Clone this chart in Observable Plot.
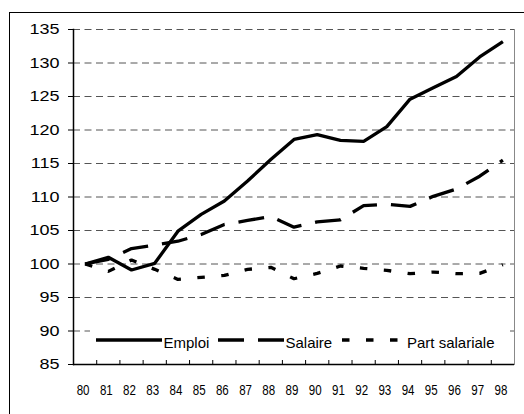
<!DOCTYPE html>
<html><head><meta charset="utf-8">
<script src="https://cdn.jsdelivr.net/npm/d3@7"></script>
<script src="https://cdn.jsdelivr.net/npm/@observablehq/plot@0.6"></script>
<style>
body{margin:0;background:#fff;}
#wrap{position:relative;width:524px;height:414px;overflow:hidden;background:#fff;font-family:"Liberation Sans",Arial,sans-serif;}
#border{position:absolute;left:9px;top:12px;width:600px;height:500px;border-left:1.5px solid #000;border-top:1.5px solid #000;}
#chart{position:absolute;left:0;top:0;}
#legend{position:absolute;left:0;top:0;}
</style></head><body>
<div id="wrap"><div id="border"></div><div id="chart"></div><svg id="legend" width="524" height="414"></svg></div>
<script>
const years = ["80","81","82","83","84","85","86","87","88","89","90","91","92","93","94","95","96","97","98"];
const emploi = [100, 101.0, 99.1, 100.1, 104.9, 107.4, 109.4, 112.4, 115.6, 118.6, 119.3, 118.45, 118.3, 120.5, 124.6, 126.3, 128.0, 130.9, 133.2];
const salaire = [100, 100.7, 102.3, 102.8, 103.4, 104.4, 105.9, 106.5, 107.1, 105.5, 106.3, 106.6, 108.7, 108.9, 108.6, 110.1, 111.2, 113.1, 115.5];
const partSalariale = [100, 98.9, 100.6, 99.2, 97.7, 98.0, 98.3, 99.2, 99.5, 97.8, 98.6, 99.7, 99.35, 99.05, 98.55, 98.8, 98.55, 98.6, 99.9];
const yTicks = [85, 90, 95, 100, 105, 110, 115, 120, 125, 130, 135];
const seriesNames = ["Emploi", "Salaire", "Part salariale"];
const seriesDash = [null, "26,14", "7.5,16.5"];

const idx = years.map((_, i) => i);
const rows = s => idx.map(i => ({i, v: s[i]}));
const lineOpts = dash => ({x: "i", y: "v", stroke: "#000", strokeWidth: 3.3, strokeLinecap: "butt", strokeLinejoin: "miter", strokeDasharray: dash || undefined});

const plot = Plot.plot({
  width: 524, height: 414,
  marginLeft: 73, marginRight: 10, marginTop: 29, marginBottom: 50,
  style: {fontFamily: "'Liberation Sans', Arial, sans-serif", fontSize: "15px", background: "transparent", color: "#000"},
  x: {type: "linear", domain: [-0.5, years.length - 0.5]},
  y: {domain: [85, 135]},
  marks: [
    Plot.gridY(yTicks.filter(t => t > 85), {stroke: "#555", strokeOpacity: 1, strokeDasharray: "7,4.5"}),
    Plot.frame({anchor: "right", stroke: "#888"}),
    Plot.line(rows(partSalariale), lineOpts(seriesDash[2])),
    Plot.line(rows(salaire), lineOpts(seriesDash[1])),
    Plot.line(rows(emploi), lineOpts(seriesDash[0])),
    Plot.ruleY([85], {stroke: "#000", strokeWidth: 1.5}),
    Plot.frame({anchor: "left", stroke: "#000", strokeWidth: 1.5}),
    Plot.axisY(yTicks, {tickSize: 5, tickPadding: 9, label: null, stroke: "#000"}),
    Plot.axisX(idx.slice(1).map(i => i - 0.5), {tickSize: -4, tickFormat: () => "", label: null, stroke: "#000"}),
    Plot.axisX(idx, {tickSize: 0, tickPadding: 20, tickFormat: i => years[i], label: null, dx: -2})
  ]
});
document.getElementById("chart").appendChild(plot);

// adjust label glyph widths to the reference
d3.select(plot).selectAll('g[aria-label="y-axis tick label"] text').each(function() {
  const t = this.getAttribute("transform") || "";
  this.setAttribute("transform", t + " scale(1.2,1)");
});
d3.select(plot).selectAll('g[aria-label="x-axis tick label"] text').each(function() {
  const t = this.getAttribute("transform") || "";
  this.setAttribute("transform", t + " scale(0.77,1)");
});

// legend
const lg = d3.select("#legend");
lg.append("rect").attr("x", 90).attr("y", 322).attr("width", 416).attr("height", 35).attr("fill", "#fff");
const items = [
  {x1: 96, x2: 162, tx: 163.5},
  {x1: 218, x2: 284, tx: 285.5},
  {x1: 342, x2: 398, tx: 407}
];
items.forEach((it, k) => {
  lg.append("line").attr("x1", it.x1).attr("x2", it.x2).attr("y1", 340).attr("y2", 340)
    .attr("stroke", "#000").attr("stroke-width", 3.6)
    .attr("stroke-dasharray", seriesDash[k] || null);
  lg.append("text").attr("x", it.tx).attr("y", 347.5)
    .attr("font-family", "'Liberation Sans', Arial, sans-serif").attr("font-size", 15)
    .attr("fill", "#000").text(seriesNames[k]);
});
</script>
</body></html>
